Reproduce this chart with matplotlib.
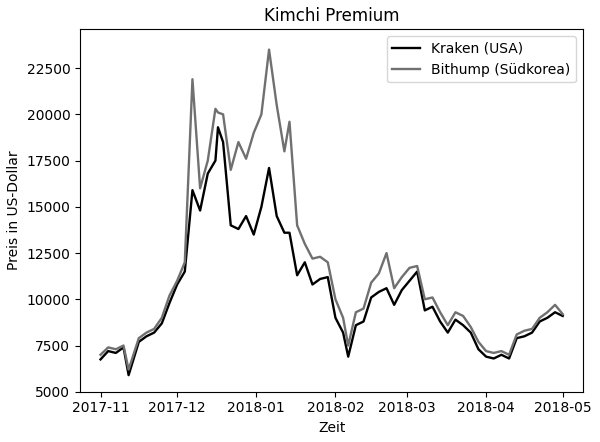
import matplotlib.pyplot as plt
import matplotlib.dates as mdates
import pandas as pd

dates = pd.to_datetime([
    "2017-11-01", "2017-11-04", "2017-11-07", "2017-11-10", "2017-11-12", "2017-11-16",
    "2017-11-19", "2017-11-22", "2017-11-25", "2017-11-28", "2017-12-01", "2017-12-04",
    "2017-12-07", "2017-12-10", "2017-12-13", "2017-12-16", "2017-12-17", "2017-12-19",
    "2017-12-22", "2017-12-25", "2017-12-28", "2017-12-31", "2018-01-03", "2018-01-06",
    "2018-01-09", "2018-01-12", "2018-01-14", "2018-01-17", "2018-01-20", "2018-01-23",
    "2018-01-26", "2018-01-29", "2018-02-01", "2018-02-04", "2018-02-06", "2018-02-09",
    "2018-02-12", "2018-02-15", "2018-02-18", "2018-02-21", "2018-02-24", "2018-02-27",
    "2018-03-02", "2018-03-05", "2018-03-08", "2018-03-11", "2018-03-14", "2018-03-17",
    "2018-03-20", "2018-03-23", "2018-03-26", "2018-03-29", "2018-04-01", "2018-04-04",
    "2018-04-07", "2018-04-10", "2018-04-13", "2018-04-16", "2018-04-19", "2018-04-22",
    "2018-04-25", "2018-04-28", "2018-05-01",
])

kraken = [6750, 7200, 7100, 7400, 5900, 7700, 8000, 8200, 8700, 9800, 10800, 11500,
          15900, 14800, 16800, 17500, 19300, 18500, 14000, 13800, 14500, 13500, 15000, 17100,
          14500, 13600, 13600, 11300, 12000, 10800, 11100, 11200, 9000, 8200, 6900, 8600,
          8800, 10100, 10400, 10600, 9700, 10500, 11000, 11500, 9400, 9600, 8800, 8200,
          8900, 8600, 8200, 7300, 6900, 6800, 7000, 6800, 7900, 8000, 8200, 8800,
          9000, 9300, 9100]

bithump = [7000, 7400, 7300, 7500, 6200, 7900, 8200, 8400, 9000, 10200, 11000, 12000,
           21900, 16000, 17500, 20300, 20100, 20000, 17000, 18500, 17600, 19000, 20000, 23500,
           20500, 18000, 19600, 14000, 13000, 12200, 12300, 12000, 10000, 9000, 7500, 9300,
           9500, 10900, 11400, 12500, 10600, 11200, 11700, 11800, 10000, 10100, 9300, 8600,
           9300, 9100, 8500, 7700, 7200, 7100, 7200, 7000, 8100, 8300, 8400, 9000,
           9300, 9700, 9200]

fig, ax = plt.subplots(figsize=(6, 4.42), dpi=100)
ax.plot(dates, kraken, color="black", linewidth=1.7, label="Kraken (USA)")
ax.plot(dates, bithump, color="#707070", linewidth=1.7, label="Bithump (Südkorea)")

ax.set_title("Kimchi Premium")
ax.set_xlabel("Zeit")
ax.set_ylabel("Preis in US-Dollar")
ax.set_yticks(range(5000, 22501, 2500))
ax.set_ylim(5000, 24600)
ax.xaxis.set_major_locator(mdates.MonthLocator())
ax.xaxis.set_major_formatter(mdates.DateFormatter("%Y-%m"))
ax.set_xlim(pd.Timestamp("2017-10-24"), pd.Timestamp("2018-05-09"))
ax.legend(loc="upper right")

plt.tight_layout(pad=0.5)
plt.savefig("out.png")
